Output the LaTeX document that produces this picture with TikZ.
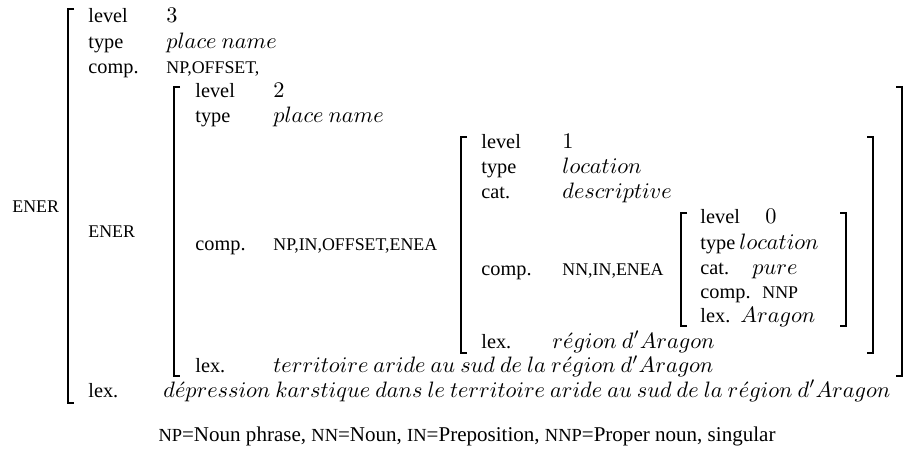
\documentclass[tikz,border=0pt]{standalone}
\usepackage{fontspec}
\setmainfont{Liberation Serif}[Scale=0.91]
\newcommand{\fsc}[1]{{\fontsize{8.8}{10}\selectfont #1}}
\newcommand{\fnsc}[1]{{\fontsize{9.1}{10}\selectfont #1}}
\begin{document}
\begin{tikzpicture}[x=0.4485pt,y=-0.4485pt,
  t/.style={anchor=base west, inner sep=0pt},
  brk/.style={line width=0.6pt}]
\useasboundingbox (0,0) rectangle (919,448);
% outer structure (level 3)
\node[t] (e3) at (12,212) {\fsc{ENER}};
\node[t] (l3k) at (88,22) {level};
\node[t] (l3v) at (166,22) {$3$};
\node[t] (t3k) at (88,48) {type};
\node[t] (t3v) at (166,48) {$place\ name$};
\node[t] (c3k) at (88,73) {comp.};
\node[t] (c3v) at (166,73) {\fsc{NP,OFFSET,}};
\node[t] (x3k) at (88,397) {lex.};
\node[t] (x3v) at (163,397) {$d\acute{e}pression\ karstique\ dans\ le\ territoire\ aride\ au\ sud\ de\ la\ r\acute{e}gion\ d'Aragon$};
\draw[brk] (74,9) -- (68,9) -- (68,403) -- (74,403);
% level 2
\node[t] (e2) at (88,237) {\fsc{ENER}};
\node[t] (l2k) at (195,97) {level};
\node[t] (l2v) at (273,97) {$2$};
\node[t] (t2k) at (195,122) {type};
\node[t] (t2v) at (273,122) {$place\ name$};
\node[t] (c2k) at (195,250) {comp.};
\node[t] (c2v) at (273,250) {\fsc{NP,IN,OFFSET,ENEA}};
\node[t] (x2k) at (195,372.5) {lex.};
\node[t] (x2v) at (273,372.5) {$territoire\ aride\ au\ sud\ de\ la\ r\acute{e}gion\ d'Aragon$};
\draw[brk] (180,87) -- (174,87) -- (174,376) -- (180,376);
\draw[brk] (896,87) -- (902,87) -- (902,376) -- (896,376);
% level 1
\node[t] (l1k) at (481,148) {level};
\node[t] (l1v) at (562,148) {$1$};
\node[t] (t1k) at (481,173) {type};
\node[t] (t1v) at (562,173) {$location$};
\node[t] (k1k) at (481,198) {cat.};
\node[t] (k1v) at (562,198) {$descriptive$};
\node[t] (c1k) at (481,275) {comp.};
\node[t] (c1v) at (562,275) {\fsc{NN,IN,ENEA}};
\node[t] (x1k) at (481,348) {lex.};
\node[t] (x1v) at (552,348) {$r\acute{e}gion\ d'Aragon$};
\draw[brk] (467,137) -- (461,137) -- (461,353) -- (467,353);
\draw[brk] (867,137) -- (873,137) -- (873,353) -- (867,353);
% level 0
\node[t] (l0k) at (700,223) {level};
\node[t] (l0v) at (765,223) {$0$};
\node[t] (t0k) at (700,249) {type};
\node[t] (t0v) at (739,249) {$location$};
\node[t] (k0k) at (700,274) {cat.};
\node[t] (k0v) at (752,274) {$pure$};
\node[t] (c0k) at (700,298) {comp.};
\node[t] (c0v) at (762,298) {\fsc{NNP}};
\node[t] (x0k) at (700,322) {lex.};
\node[t] (x0v) at (740,322) {$Aragon$};
\draw[brk] (687,213) -- (681,213) -- (681,326) -- (687,326);
\draw[brk] (840,213) -- (846,213) -- (846,326) -- (840,326);
% footnote
\node[anchor=base, inner sep=0pt, font=\fontsize{10.37}{12}\selectfont] (fn) at (467,441) {\fnsc{NP}=Noun phrase, \fnsc{NN}=Noun, \fnsc{IN}=Preposition, \fnsc{NNP}=Proper noun, singular};
\end{tikzpicture}
\end{document}
